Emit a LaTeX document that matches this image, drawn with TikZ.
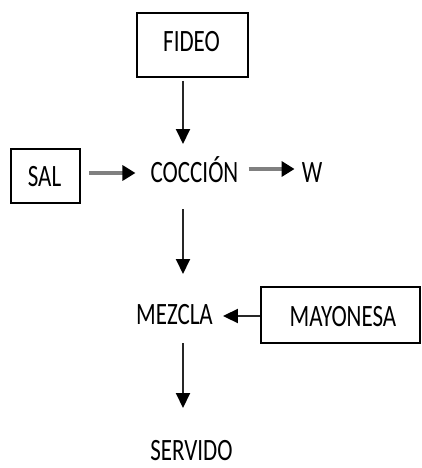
\documentclass[tikz,border=0pt]{standalone}
\usepackage{graphicx}
\usepackage{fontspec}
\setmainfont{Carlito}
\usetikzlibrary{arrows.meta}
% labels are set in a narrow, tall face
\newcommand\lbl[1]{\scalebox{1}[1.35]{#1}}
\tikzset{
  lblnode/.style={inner sep=0pt, anchor=base, font=\fontsize{23}{28}\selectfont},
  boxnode/.style={draw, line width=1.6pt, inner sep=0pt},
  flow/.style={line width=2pt, draw=black!85,
    -{Triangle[length=15pt, width=14pt, black]}},
  feed/.style={line width=4.5pt, draw=black!50,
    -{Triangle[length=13pt, width=15pt, black]}},
}
\begin{document}
\begin{tikzpicture}[x=1pt, y=-1pt]
  \useasboundingbox (0,0) rectangle (422,468);
  \fill[white] (0,0) rectangle (422,468);

  % raw-material boxes
  \node[boxnode, minimum width=111pt, minimum height=64pt] (fideoBox) at (192.5,45) {};
  \node[boxnode, minimum width=69pt, minimum height=54pt] (salBox) at (45.5,176) {};
  \node[boxnode, minimum width=159pt, minimum height=56pt] (mayoBox) at (340.5,315) {};

  % labels
  \node[lblnode] (fideo) at (191.5,52) {\lbl{FIDEO}};
  \node[lblnode] (sal) at (44.5,186) {\lbl{SAL}};
  \node[lblnode] (coccion) at (194.5,182) {\lbl{COCCIÓN}};
  \node[lblnode] (w) at (312,182) {\lbl{W}};
  \node[lblnode] (mezcla) at (174.5,324) {\lbl{MEZCLA}};
  \node[lblnode] (mayo) at (343,326) {\lbl{MAYONESA}};
  \node[lblnode] (servido) at (191.5,460) {\lbl{SERVIDO}};

  % process flow
  \draw[flow] ([shift={(-9.5,3)}]fideoBox.south) -- ([shift={(-11.5,-38)}]coccion.base);
  \draw[feed] ([shift={(8,-3)}]salBox.east) -- ([shift={(-15,-9)}]coccion.base west);
  \draw[feed] ([shift={(10,-13)}]coccion.base east) -- ([shift={(-7,-13)}]w.base west);
  \draw[flow] ([shift={(-11.5,27)}]coccion.base) -- ([shift={(8.5,-50)}]mezcla.base);
  \draw[flow] (mayoBox.west |- 0,316) -- ([shift={(10,-8)}]mezcla.base east);
  \draw[flow] ([shift={(8.5,19)}]mezcla.base) -- ([shift={(-8.5,-52)}]servido.base);
\end{tikzpicture}
\end{document}
